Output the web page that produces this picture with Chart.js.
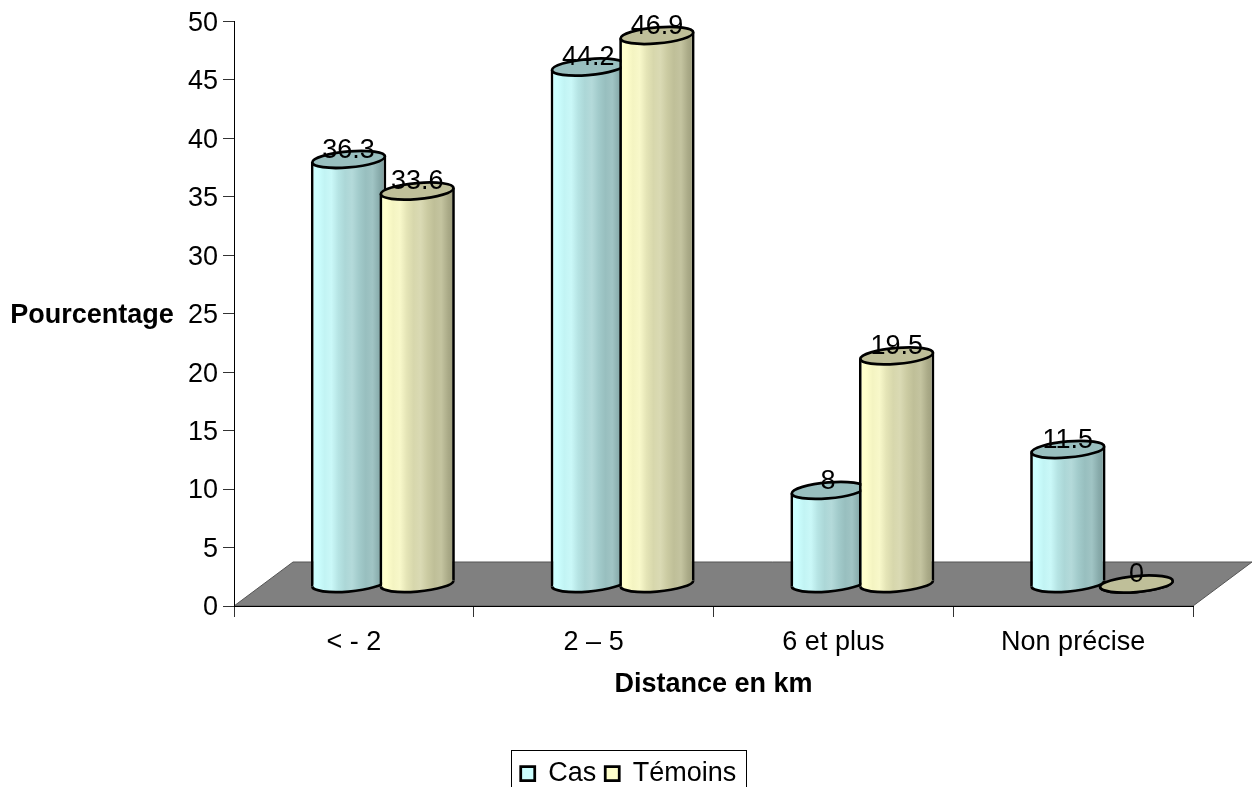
<!DOCTYPE html>
<html><head><meta charset="utf-8">
<style>html,body{margin:0;padding:0;background:#fff;overflow:hidden}canvas{display:block}</style>
<script src="https://cdn.jsdelivr.net/npm/chart.js@4"></script>
</head><body><div style="width:1259px;height:787px"><canvas id="c" width="1259" height="787"></canvas></div>
<script>
const categories = ['< - 2', '2 – 5', '6 et plus', 'Non précise'];
const casValues = [36.3, 44.2, 8, 11.5];
const temoinsValues = [33.6, 46.9, 19.5, 0];
const casStops = ['#CCFFFF','#CCFFFF','#C2F4F4','#CAF8F8','#B6E4E4','#ACD7D7','#B4DADA','#A2CBCB','#98BFBF','#A0C4C4','#88ABAB','#7A9999'];
const temoinsStops = ['#FFFFCC','#FFFFCC','#F4F4C2','#F8F8CA','#E4E4B6','#D7D7AC','#DADAB4','#CBCBA2','#BFBF98','#C4C4A0','#ABAB88','#999979'];
const topColors = ['#99BFBF', '#BFBF99'];
const FONT = '"Liberation Sans"';
const FS = 27;
const RY = 8, SHEAR = -0.082, DEPTH_X = 59, DEPTH_Y = 44, STROKE = 2.75;
const LEGEND_SHIFT_X = 32, LEGEND_SHIFT_Y = 10;

Chart.defaults.font.family = FONT;
Chart.defaults.color = '#000';

const cylinders = {
  id: 'cylinders',
  afterLayout(chart) {
    const l = chart.legend;
    l.top += LEGEND_SHIFT_Y; l.bottom += LEGEND_SHIFT_Y;
    l.left += LEGEND_SHIFT_X; l.right += LEGEND_SHIFT_X;
    l.legendHitBoxes.forEach(h => { h.left += LEGEND_SHIFT_X; });
  },
  beforeDraw(chart) {
    const {ctx, scales:{x, y}} = chart;
    const y0 = y.getPixelForValue(0);
    ctx.save();
    ctx.fillStyle = '#808080'; ctx.strokeStyle = '#555'; ctx.lineWidth = 1;
    ctx.beginPath();
    ctx.moveTo(x.left, y0);
    ctx.lineTo(x.left + DEPTH_X, y0 - DEPTH_Y);
    ctx.lineTo(x.right + DEPTH_X, y0 - DEPTH_Y);
    ctx.lineTo(x.right, y0);
    ctx.closePath(); ctx.fill(); ctx.stroke();
    ctx.restore();
  },
  beforeDatasetsDraw(chart) {
    const ctx = chart.ctx;
    const stops = [casStops, temoinsStops];
    chart.data.datasets.forEach((ds, di) => {
      chart.getDatasetMeta(di).data.forEach(el => {
        const w = el.width, cx = el.x, rx = w / 2 - STROKE / 2;
        const g = ctx.createLinearGradient(cx - w/2, 0, cx + w/2, 0);
        stops[di].forEach((c, i) => g.addColorStop(i / (stops[di].length - 1), c));
        el.options = Object.assign({}, el.options, {backgroundColor: g});
        ctx.save();
        ctx.translate(DEPTH_X / 2 - 0.5, -DEPTH_Y / 2);
        ctx.transform(1, SHEAR, 0, 1, 0, -SHEAR * cx);
        ctx.lineWidth = STROKE; ctx.strokeStyle = '#000';
        el.draw(ctx);
        ctx.fillStyle = g;
        ctx.fillRect(cx - rx + STROKE / 2, el.base - 1.5, 2 * rx - STROKE, 3);
        ctx.beginPath();
        ctx.ellipse(cx, el.base, rx, RY, 0, 0, Math.PI);
        ctx.fill(); ctx.stroke();
        ctx.beginPath();
        ctx.ellipse(cx, el.y, rx, RY, 0, 0, Math.PI * 2);
        ctx.fillStyle = topColors[di]; ctx.fill(); ctx.stroke();
        ctx.restore();
      });
    });
    return false;
  },
  afterDraw(chart) {
    const {ctx, scales:{y}} = chart;
    ctx.save();
    ctx.fillStyle = '#000';
    ctx.textAlign = 'center'; ctx.textBaseline = 'middle';
    ctx.font = `${FS}px ${FONT}`;
    chart.data.datasets.forEach((ds, di) => {
      chart.getDatasetMeta(di).data.forEach((el, i) => {
        ctx.fillText(String(ds.data[i]), el.x + DEPTH_X / 2 - 0.5, el.y - DEPTH_Y / 2 - 9);
      });
    });
    ctx.font = `bold ${FS}px ${FONT}`;
    ctx.fillText('Pourcentage', 92, (y.top + y.bottom) / 2 + 2);
    const hb = chart.legend.legendHitBoxes;
    const left = Math.min(...hb.map(h => h.left)), right = Math.max(...hb.map(h => h.left + h.width));
    const mid = (left + right) / 2;
    ctx.strokeStyle = '#000'; ctx.lineWidth = 1;
    ctx.strokeRect(Math.round(mid - 117.5) + 0.5, 750.5, 235, 60);
    ctx.restore();
  }
};

new Chart(document.getElementById('c'), {
  type: 'bar',
  data: {
    labels: categories,
    datasets: [
      {label: 'Cas', data: casValues, backgroundColor: '#CCFFFF'},
      {label: 'Témoins', data: temoinsValues, backgroundColor: '#FFFFCC'}
    ]
  },
  options: {
    responsive: false, animation: false,
    layout: {padding: {top: 21, right: 66, left: 0, bottom: 0}},
    datasets: {bar: {
      barPercentage: 1.1, categoryPercentage: 0.572,
      borderColor: '#000', borderWidth: {left: STROKE, right: STROKE, top: 0, bottom: 0}, borderSkipped: false
    }},
    scales: {
      x: {
        afterFit(s) { s.height = 787 - 606 - s.chart.legend.height; },
        border: {color: '#000', width: 1},
        grid: {drawOnChartArea: false, drawTicks: true, tickLength: 11, color: '#333'},
        ticks: {font: {size: FS}, color: '#000', maxRotation: 0, padding: 9},
        title: {display: true, text: 'Distance en km', font: {size: FS, weight: 'bold'}, color: '#000', padding: {top: 0, bottom: 40}}
      },
      y: {
        min: 0, max: 50,
        afterFit(s) { s.width = 234; },
        border: {color: '#000', width: 1},
        grid: {drawOnChartArea: false, drawTicks: true, tickLength: 11, color: '#333'},
        ticks: {stepSize: 5, font: {size: FS}, color: '#000', padding: 5, labelOffset: 2}
      }
    },
    plugins: {
      legend: {
        display: true, position: 'bottom',
        labels: {
          boxWidth: 14, boxHeight: 14, padding: 9, font: {size: FS}, color: '#000',
          generateLabels(chart) {
            const items = Chart.defaults.plugins.legend.labels.generateLabels(chart);
            items.forEach(i => { i.lineWidth = STROKE; i.strokeStyle = '#000'; });
            return items;
          }
        }
      },
      tooltip: {enabled: false}
    }
  },
  plugins: [cylinders]
});
</script></body></html>
